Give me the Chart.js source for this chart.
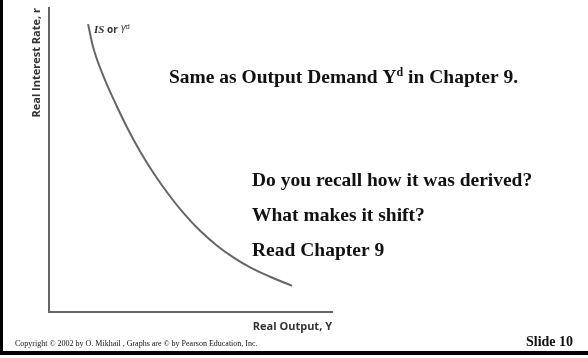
<!DOCTYPE html>
<html>
<head>
<meta charset="utf-8">
<script src="https://cdn.jsdelivr.net/npm/chart.js@4/dist/chart.umd.min.js"></script>
<style>
  html, body { margin: 0; padding: 0; background: #fff; }
  #wrap { position: relative; width: 588px; height: 358px; overflow: hidden; }
  #frame { position: absolute; left: 0; top: 0; width: 588px; height: 355px;
           box-sizing: border-box; border-left: 3px solid #000; border-bottom: 4px solid #000; }
  #c { position: absolute; left: 0; top: 0; }
</style>
</head>
<body>
<div id="wrap">
  <div id="frame"></div>
  <canvas id="c" width="588" height="358"></canvas>
</div>
<script>
// Curve (arbitrary units, 0..10 on both axes)
const curveX = [1.38, 1.59, 1.94, 2.33, 2.76, 3.22, 3.71, 4.21, 4.74, 5.34, 5.94, 6.54, 7.14, 7.81, 8.59];
const curveY = [9.47, 8.61, 7.72, 6.90, 6.07, 5.28, 4.55, 3.89, 3.27, 2.67, 2.18, 1.78, 1.45, 1.16, 0.86];
const yAxisTitle = "Real Interest Rate, r";
const xAxisTitle = "Real Output, Y";
const curveLabel = ["IS", " or ", "Y", "d"];
const headline = ["Same as Output Demand Y", "d", " in Chapter 9."];
const bullets = ["Do you recall how it was derived?", "What makes it shift?", "Read Chapter 9"];
const slideNo = "Slide 10";
const copyright = "Copyright \u00A9 2002 by O. Mikhail , Graphs are \u00A9 by Pearson Education, Inc.";

const points = curveX.map((x, i) => ({ x: x, y: curveY[i] }));

const textPlugin = {
  id: 'slideText',
  afterDraw(chart) {
    const ctx = chart.ctx;
    const xs = chart.scales.x, ys = chart.scales.y;
    ctx.save();
    ctx.textBaseline = 'alphabetic';
    // Y axis title (rotated)
    ctx.save();
    ctx.fillStyle = '#333';
    ctx.font = 'bold 11px "Open Sans", sans-serif';
    ctx.translate(xs.left - 9, ys.top);
    ctx.rotate(-Math.PI / 2);
    ctx.textAlign = 'right';
    ctx.fillText(yAxisTitle, 0, 0);
    ctx.restore();
    // X axis title
    ctx.fillStyle = '#333';
    ctx.font = 'bold 11px "Open Sans", sans-serif';
    ctx.textAlign = 'right';
    ctx.fillText(xAxisTitle, xs.right, ys.bottom + 18);
    // Curve label
    const p0 = points[0];
    let lx = xs.getPixelForValue(p0.x) + 6;
    const ly = ys.getPixelForValue(p0.y) + 9;
    ctx.textAlign = 'left';
    ctx.fillStyle = '#333';
    ctx.font = 'italic bold 11px "Liberation Serif", serif';
    ctx.fillText(curveLabel[0], lx, ly); lx += ctx.measureText(curveLabel[0]).width;
    ctx.font = 'bold 10px "Open Sans", sans-serif';
    ctx.fillText(curveLabel[1], lx, ly); lx += ctx.measureText(curveLabel[1]).width;
    ctx.font = 'italic 10px "Open Sans", sans-serif';
    ctx.fillText(curveLabel[2], lx, ly); lx += ctx.measureText(curveLabel[2]).width;
    ctx.font = '7px "Open Sans", sans-serif';
    ctx.fillText(curveLabel[3], lx, ly - 4);
    // Headline
    ctx.fillStyle = '#111';
    let hx = 169;
    const hy = 83;
    ctx.font = 'bold 19.5px "Liberation Serif", "Times New Roman", serif';
    ctx.fillText(headline[0], hx, hy); hx += ctx.measureText(headline[0]).width;
    ctx.font = 'bold 12px "Liberation Serif", "Times New Roman", serif';
    ctx.fillText(headline[1], hx, hy - 7); hx += ctx.measureText(headline[1]).width;
    ctx.font = 'bold 19.5px "Liberation Serif", "Times New Roman", serif';
    ctx.fillText(headline[2], hx, hy);
    // Bullets
    const by = [186, 221, 256];
    bullets.forEach((t, i) => ctx.fillText(t, 252, by[i]));
    // Slide number
    ctx.font = 'bold 14px "Liberation Serif", "Times New Roman", serif';
    ctx.textAlign = 'left';
    ctx.fillText(slideNo, 526, 346);
    // Copyright
    ctx.font = '8px "Liberation Serif", "Times New Roman", serif';
    ctx.fillText(copyright, 15, 346);
    ctx.restore();
  }
};

new Chart(document.getElementById('c'), {
  type: 'scatter',
  data: {
    datasets: [{
      data: points,
      showLine: true,
      borderColor: '#666',
      borderWidth: 2,
      pointRadius: 0,
      tension: 0.4,
      fill: false
    }]
  },
  options: {
    responsive: false,
    animation: false,
    layout: { padding: { left: 41, top: 8, right: 256, bottom: 38 } },
    plugins: { legend: { display: false }, tooltip: { enabled: false } },
    scales: {
      x: {
        type: 'linear', min: 0, max: 10,
        grid: { display: false },
        ticks: { display: false },
        border: { display: true, color: '#666', width: 2 }
      },
      y: {
        type: 'linear', min: 0, max: 10,
        grid: { display: false },
        ticks: { display: false },
        border: { display: true, color: '#666', width: 2 }
      }
    }
  },
  plugins: [textPlugin]
});
</script>
</body>
</html>
